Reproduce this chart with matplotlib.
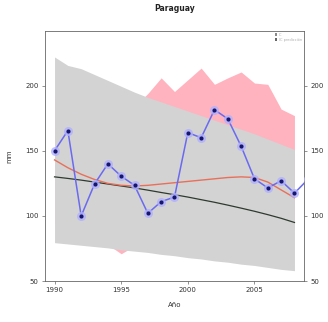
import numpy as np
import matplotlib
matplotlib.use("Agg")
import matplotlib.pyplot as plt
from matplotlib.patches import Patch

# ---- data ----
years = np.arange(1990, 2009)
obs_years = np.arange(1990, 2010)
obs = [150, 165.5, 100, 124.5, 140, 130.5, 123.5, 102, 111, 114.5,
       164, 160, 181.5, 174.5, 153.5, 128.5, 121.5, 127, 117.5, 128]
smooth = [143, 137, 132, 128, 125, 123.5, 123, 123.5, 124.5, 125.5,
          126.5, 127.5, 128.5, 129.5, 130, 129.5, 126, 120, 114]
trend = [130, 128.8, 127.5, 126, 124.5, 123, 121.5, 119.8, 118, 116.3,
         114.5, 112.5, 110.5, 108.3, 106, 103.6, 101, 98.2, 95]
gray_hi = [222, 215.5, 213, 208.5, 204, 199.5, 195, 191, 187.5, 184,
           180.5, 177, 173.5, 170, 166.5, 163, 159, 155, 151]
gray_lo = [79.5, 78.5, 77.5, 76.5, 75.5, 74, 73, 72, 70.5, 69.5,
           68, 67, 65.5, 64.5, 63, 62, 60.5, 59, 58]
pink_hi = [190, 188, 186, 184, 183, 183, 184, 194, 206, 195.5,
           204.5, 213.5, 201, 206, 210.5, 202, 201, 182, 177]
pink_lo = [95, 93, 90, 86, 78, 71, 77, 85, 86, 87,
           88, 88, 89, 89, 90, 90, 90, 90, 90]
yticks = [50, 100, 150, 200]
xticks = [1990, 1995, 2000, 2005]
legend_labels = ["IC", "IC predicción"]

fig = plt.figure(figsize=(3.28, 3.22), dpi=100)
ax = fig.add_axes([0.137, 0.127, 0.79, 0.777])

ax.fill_between(years, pink_lo, pink_hi, color="#ffb3bf", lw=0, zorder=1)
ax.fill_between(years, gray_lo, gray_hi, color="#d3d3d3", lw=0, zorder=2)
ax.plot(years, trend, color="#2f3a2f", lw=0.9, zorder=3)
ax.plot(years, smooth, color="#e8705a", lw=1.0, zorder=3)
ax.plot(obs_years, obs, color="#6a6af0", lw=1.1, zorder=4)
ax.plot(obs_years, obs, "o", ms=6.5, color="#b0b0ff", alpha=0.8, mec="none", zorder=5)
ax.plot(obs_years, obs, "o", ms=3, color="#16166e", mec="none", zorder=6)

ax.set_xlim(1989.28, 2008.72)
ax.set_ylim(50, 242)
ax.set_xticks(xticks)
ax.set_yticks(yticks)
ax.tick_params(labelsize=5, length=2.5, width=0.5, color="#666666", labelcolor="#333333",
               right=True, labelright=True, pad=2)
for s in ax.spines.values():
    s.set_linewidth(0.6)
    s.set_color("#666666")

ax.set_title("Paraguay", fontsize=5.5, fontweight="bold", color="#222222", pad=14)
ax.set_xlabel("Año", fontsize=5, color="#333333", labelpad=6)
ax.set_ylabel("mm", fontsize=5, color="#333333", labelpad=9)

handles = [Patch(facecolor="#8a8a8a", edgecolor="none"), Patch(facecolor="#666666", edgecolor="none")]
ax.legend(handles, legend_labels, loc="upper right", fontsize=2.5, frameon=False,
          handlelength=0.8, handleheight=0.8, borderaxespad=0.2, labelspacing=0.2,
          handletextpad=0.4, labelcolor="#aaaaaa")

fig.savefig("out.png", dpi=100)
